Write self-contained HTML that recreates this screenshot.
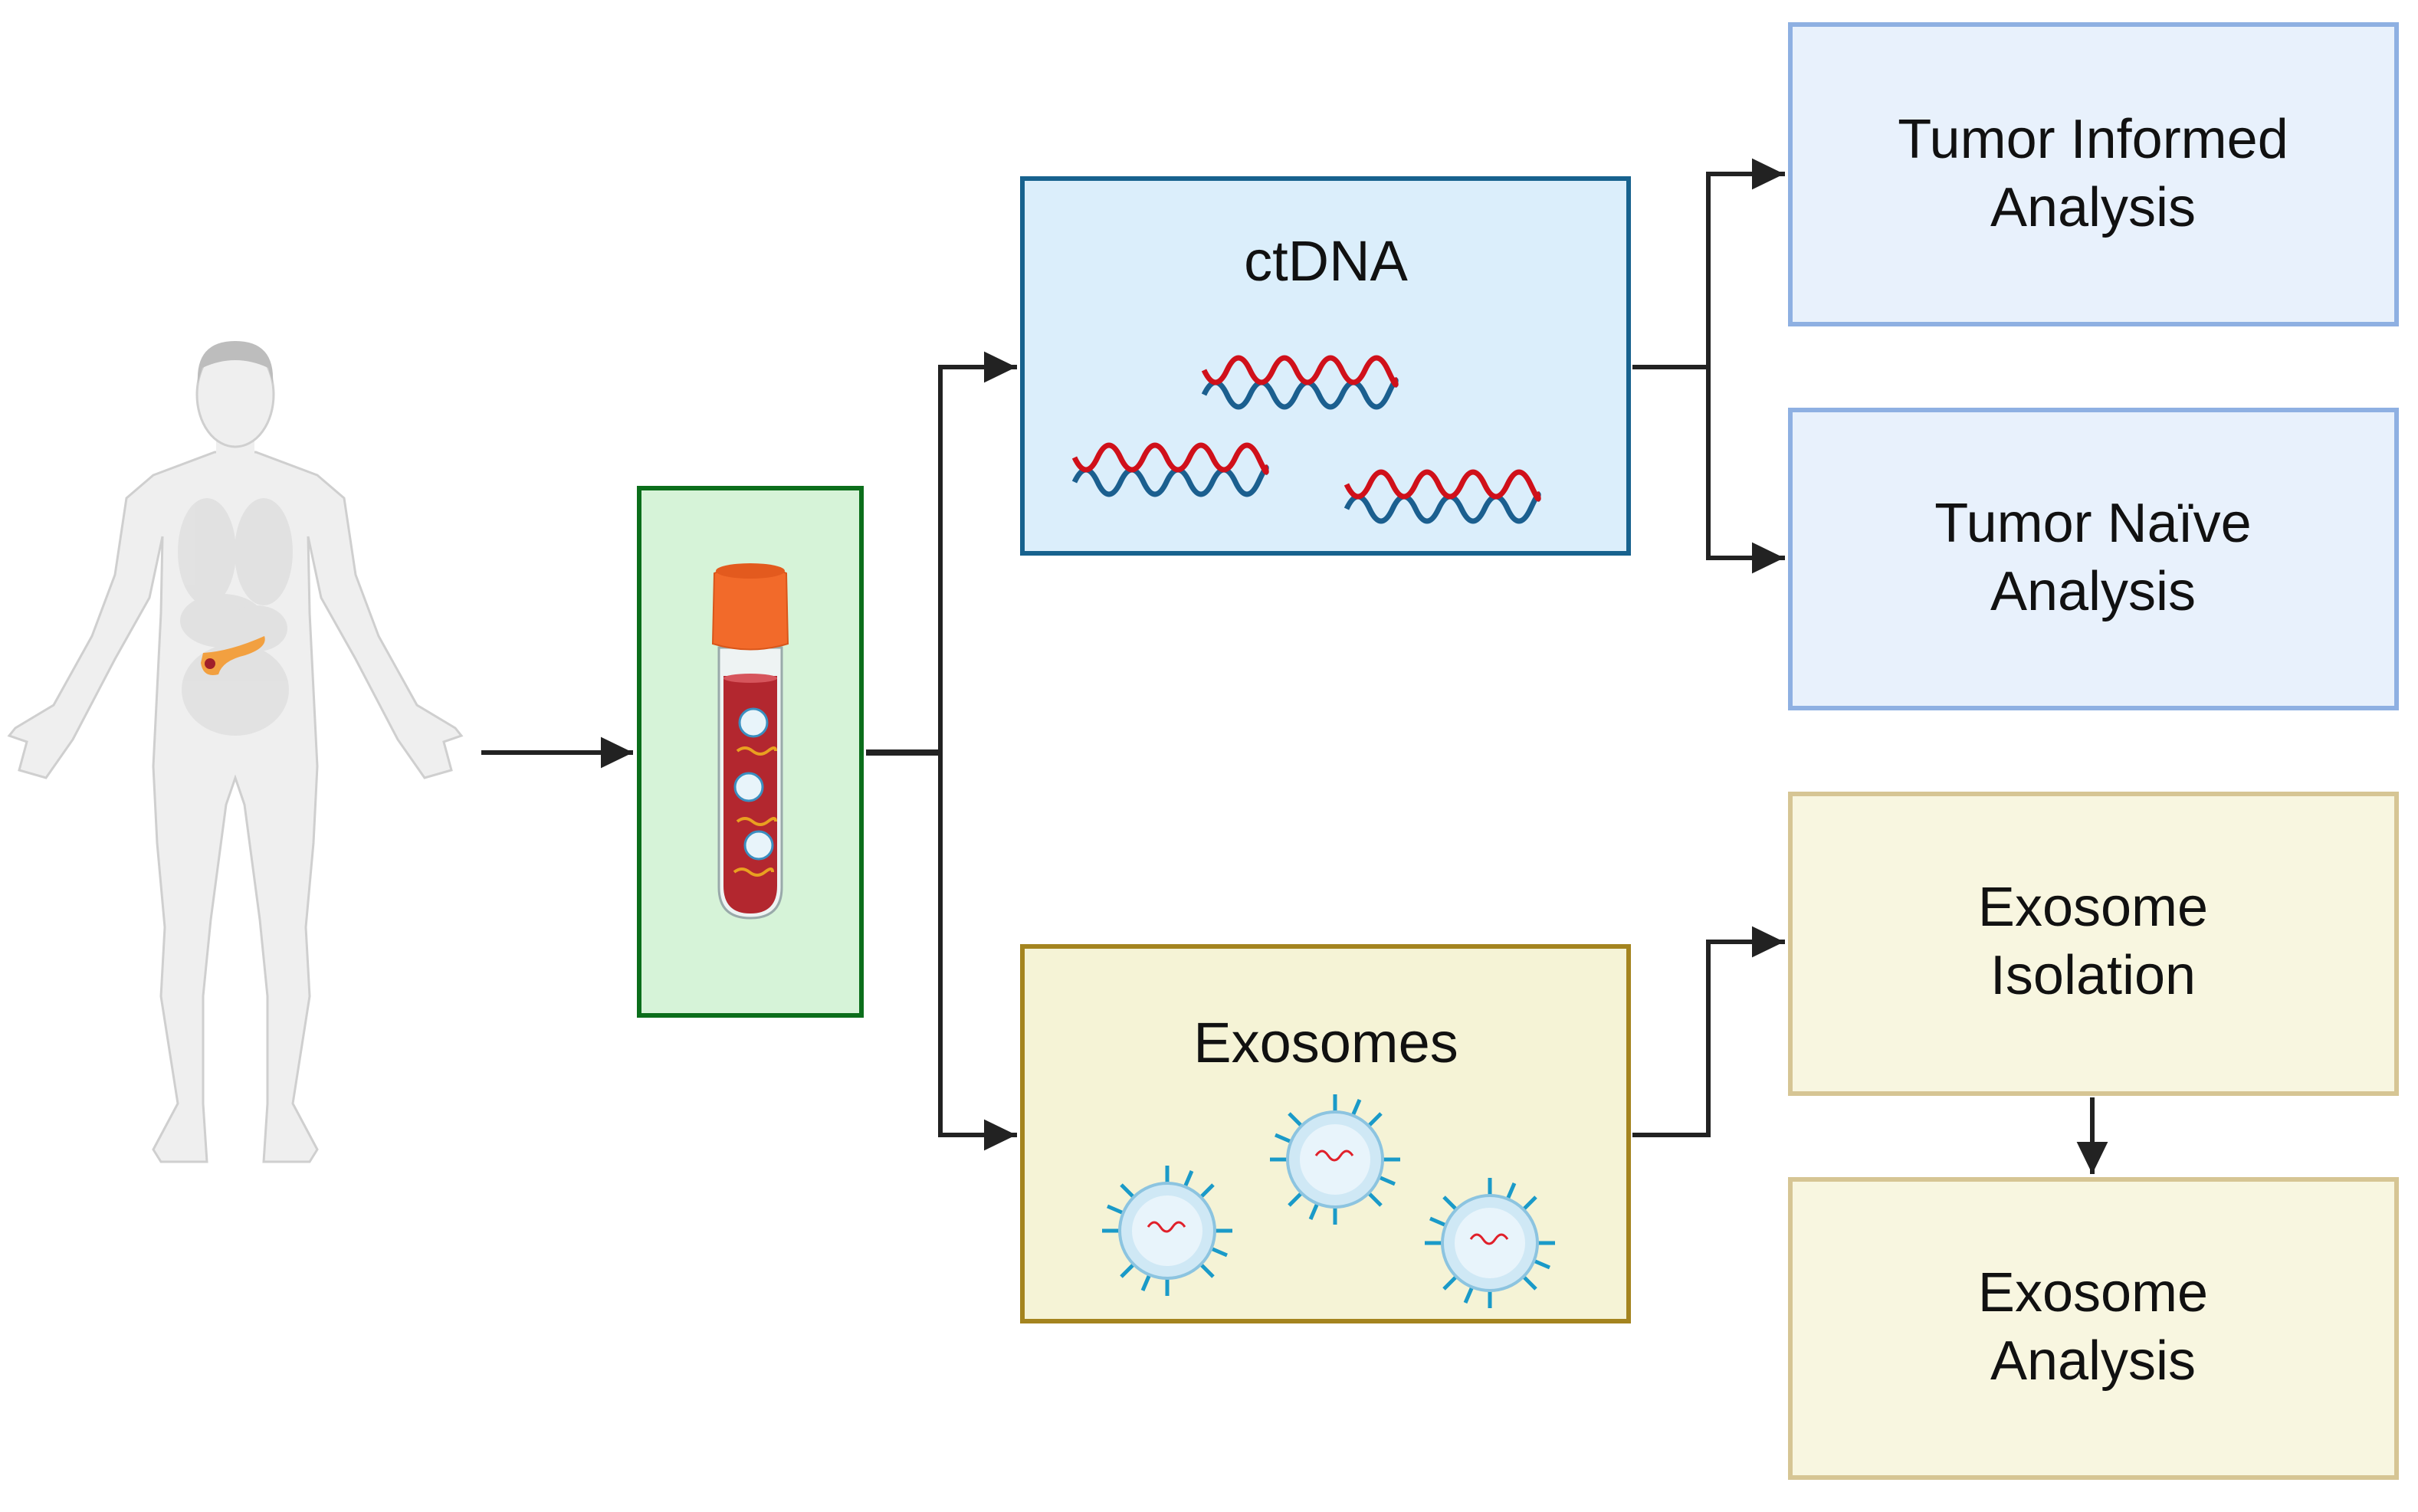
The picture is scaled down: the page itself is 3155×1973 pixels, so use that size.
<!DOCTYPE html>
<html><head><meta charset="utf-8"><style>
html,body{margin:0;padding:0;background:#fff;}
svg{display:block;}
text{font-family:"Liberation Sans",sans-serif;fill:#111;}
</style></head><body>
<svg width="3155" height="1973" viewBox="0 0 3155 1973" xmlns="http://www.w3.org/2000/svg">
<defs>
<marker id="ah" markerWidth="8" markerHeight="8" refX="7" refY="4" orient="auto" markerUnits="strokeWidth">
<path d="M0,0.6 L7,4 L0,7.4 Z" fill="#222"/>
</marker>
</defs>

<!-- Human -->
<g fill="#efefef" stroke="#cfcfcf" stroke-width="3">
<path d="M280,590 L200,620 L165,650 L150,750 L120,830 L70,920 L20,950 L12,960 L35,968 L25,1005 L60,1015 L95,965 L150,860 L195,780 L212,700 L210,800 L205,900 L200,1000 L205,1100 L215,1210 L210,1300 L232,1440 L200,1500 L210,1516 L270,1516 L265,1440 L265,1300 L275,1200 L295,1050 L307,1015 L319,1050 L339,1200 L349,1300 L349,1440 L344,1516 L404,1516 L414,1500 L382,1440 L404,1300 L399,1210 L409,1100 L414,1000 L409,900 L404,800 L402,700 L419,780 L464,860 L519,965 L554,1015 L589,1005 L579,968 L602,960 L594,950 L544,920 L494,830 L464,750 L449,650 L414,620 L334,590 Z"/>
<rect x="282" y="560" width="50" height="50" stroke="none"/>
<ellipse cx="307" cy="515" rx="50" ry="68"/>
</g>
<path d="M258,500 Q255,445 307,445 Q359,445 356,500 L350,480 Q307,460 264,480 Z" fill="#bdbdbd"/>
<g fill="#dedede" opacity="0.8">
<ellipse cx="270" cy="720" rx="38" ry="70"/><ellipse cx="344" cy="720" rx="38" ry="70"/>
<ellipse cx="290" cy="810" rx="55" ry="35"/><ellipse cx="335" cy="820" rx="40" ry="30"/>
<ellipse cx="307" cy="900" rx="70" ry="60"/>
</g>
<path d="M265,852 Q300,850 345,830 Q350,845 320,855 Q290,862 285,880 Q265,885 262,865 Z" fill="#f2a040"/>
<circle cx="274" cy="866" r="7" fill="#a0202a"/>

<!-- connectors -->
<g stroke="#222" stroke-width="6" fill="none">
<line x1="628" y1="982" x2="826" y2="982" marker-end="url(#ah)"/>
<line x1="1130" y1="982" x2="1227" y2="982" stroke-width="8"/>
<polyline points="1327,479 1227,479 1227,1481 1327,1481" stroke-linejoin="miter"/>
<line x1="1250" y1="479" x2="1326" y2="479" marker-end="url(#ah)"/>
<line x1="1250" y1="1481" x2="1326" y2="1481" marker-end="url(#ah)"/>
<line x1="2130" y1="479" x2="2229" y2="479"/>
<polyline points="2329,227 2229,227 2229,728 2329,728"/>
<line x1="2250" y1="227" x2="2328" y2="227" marker-end="url(#ah)"/>
<line x1="2250" y1="728" x2="2328" y2="728" marker-end="url(#ah)"/>
<polyline points="2130,1481 2229,1481 2229,1229 2329,1229"/>
<line x1="2250" y1="1229" x2="2328" y2="1229" marker-end="url(#ah)"/>
<line x1="2730" y1="1432" x2="2730" y2="1532" marker-end="url(#ah)"/>
</g>

<!-- green box -->
<rect x="834" y="637" width="290" height="688" fill="#d6f3d8" stroke="#0b6e1b" stroke-width="6"/>
<!-- tube -->
<path d="M938,845 L1020,845 L1020,1158 Q1020,1198 979,1198 Q938,1198 938,1158 Z" fill="#eef3f3" stroke="#9aa" stroke-width="3"/>
<path d="M944,882 L1014,882 L1014,1156 Q1014,1192 979,1192 Q944,1192 944,1156 Z" fill="#b3272f"/>
<ellipse cx="979" cy="885" rx="35" ry="6" fill="#d6555c"/>
<path d="M932,748 Q979,728 1026,748 L1028,840 Q979,855 930,840 Z" fill="#f26a2a" stroke="#d9561a" stroke-width="2"/>
<ellipse cx="979" cy="745" rx="45" ry="10" fill="#e35a1e"/>
<g fill="#e8f4fa" stroke="#3a8fc0" stroke-width="3">
<circle cx="983" cy="943" r="18"/><circle cx="977" cy="1027" r="18"/><circle cx="990" cy="1103" r="18"/>
</g>
<g stroke="#e9a020" stroke-width="4" fill="none">
<path d="M962,980 q10,-8 20,0 t20,0 t10,0"/><path d="M962,1072 q10,-8 20,0 t20,0 t10,0"/><path d="M958,1138 q10,-8 20,0 t20,0 t10,0"/>
</g>

<!-- ctDNA box -->
<rect x="1334" y="233" width="791" height="489" fill="#dbeefb" stroke="#17628e" stroke-width="6"/>
<text x="1730" y="366" font-size="74" text-anchor="middle">ctDNA</text>
<g fill="none" stroke-width="7">
<g transform="translate(1571,483)"><path d="M0,32 q15,-32 30,0 t30,0 t30,0 t30,0 t30,0 t30,0 t30,0 t30,0 t8,-10" stroke="#1b5f8f"/><path d="M0,0 q15,32 30,0 t30,0 t30,0 t30,0 t30,0 t30,0 t30,0 t30,0 t8,10" stroke="#d0101a"/></g>
<g transform="translate(1402,597)"><path d="M0,32 q15,-32 30,0 t30,0 t30,0 t30,0 t30,0 t30,0 t30,0 t30,0 t8,-10" stroke="#1b5f8f"/><path d="M0,0 q15,32 30,0 t30,0 t30,0 t30,0 t30,0 t30,0 t30,0 t30,0 t8,10" stroke="#d0101a"/></g>
<g transform="translate(1757,632)"><path d="M0,32 q15,-32 30,0 t30,0 t30,0 t30,0 t30,0 t30,0 t30,0 t30,0 t8,-10" stroke="#1b5f8f"/><path d="M0,0 q15,32 30,0 t30,0 t30,0 t30,0 t30,0 t30,0 t30,0 t30,0 t8,10" stroke="#d0101a"/></g>
</g>

<!-- Exosomes box -->
<rect x="1334" y="1235" width="791" height="489" fill="#f5f3d6" stroke="#a4841f" stroke-width="6"/>
<text x="1730" y="1386" font-size="74" text-anchor="middle">Exosomes</text>
<g id="exo">
<g transform="translate(1523,1606)">
<g stroke="#1a9ac8" stroke-width="5" fill="none">
<path d="M0,-62 V-85 M0,62 V85 M-62,0 H-85 M62,0 H85 M44,44 L60,60 M-44,44 L-60,60 M44,-44 L60,-60 M-44,-44 L-60,-60 M23,-57 L32,-78 M-23,57 L-32,78 M57,23 L78,32 M-57,-23 L-78,-32"/>
</g>
<circle r="62" fill="#cfe8f5" stroke="#8cc4e0" stroke-width="4"/>
<circle r="46" fill="#e8f4fb"/>
<path d="M-25,-5 q8,-12 16,0 t16,0 t16,0" stroke="#e0202a" stroke-width="3" fill="none"/>
</g>
</g>
<use href="#exo" transform="translate(219,-93)"/>
<use href="#exo" transform="translate(421,16)"/>

<!-- right boxes -->
<rect x="2336" y="32" width="791" height="391" fill="#e8f1fc" stroke="#8eb0e2" stroke-width="6"/>
<text x="2731" y="206" font-size="72" text-anchor="middle">Tumor Informed</text>
<text x="2731" y="295" font-size="72" text-anchor="middle">Analysis</text>
<rect x="2336" y="535" width="791" height="389" fill="#e8f1fc" stroke="#8eb0e2" stroke-width="6"/>
<text x="2731" y="707" font-size="72" text-anchor="middle">Tumor Naïve</text>
<text x="2731" y="796" font-size="72" text-anchor="middle">Analysis</text>
<rect x="2336" y="1036" width="791" height="391" fill="#f8f6e0" stroke="#d6c594" stroke-width="6"/>
<text x="2731" y="1208" font-size="72" text-anchor="middle">Exosome</text>
<text x="2731" y="1297" font-size="72" text-anchor="middle">Isolation</text>
<rect x="2336" y="1539" width="791" height="389" fill="#f8f6e0" stroke="#d6c594" stroke-width="6"/>
<text x="2731" y="1711" font-size="72" text-anchor="middle">Exosome</text>
<text x="2731" y="1800" font-size="72" text-anchor="middle">Analysis</text>
</svg>
</body></html>
